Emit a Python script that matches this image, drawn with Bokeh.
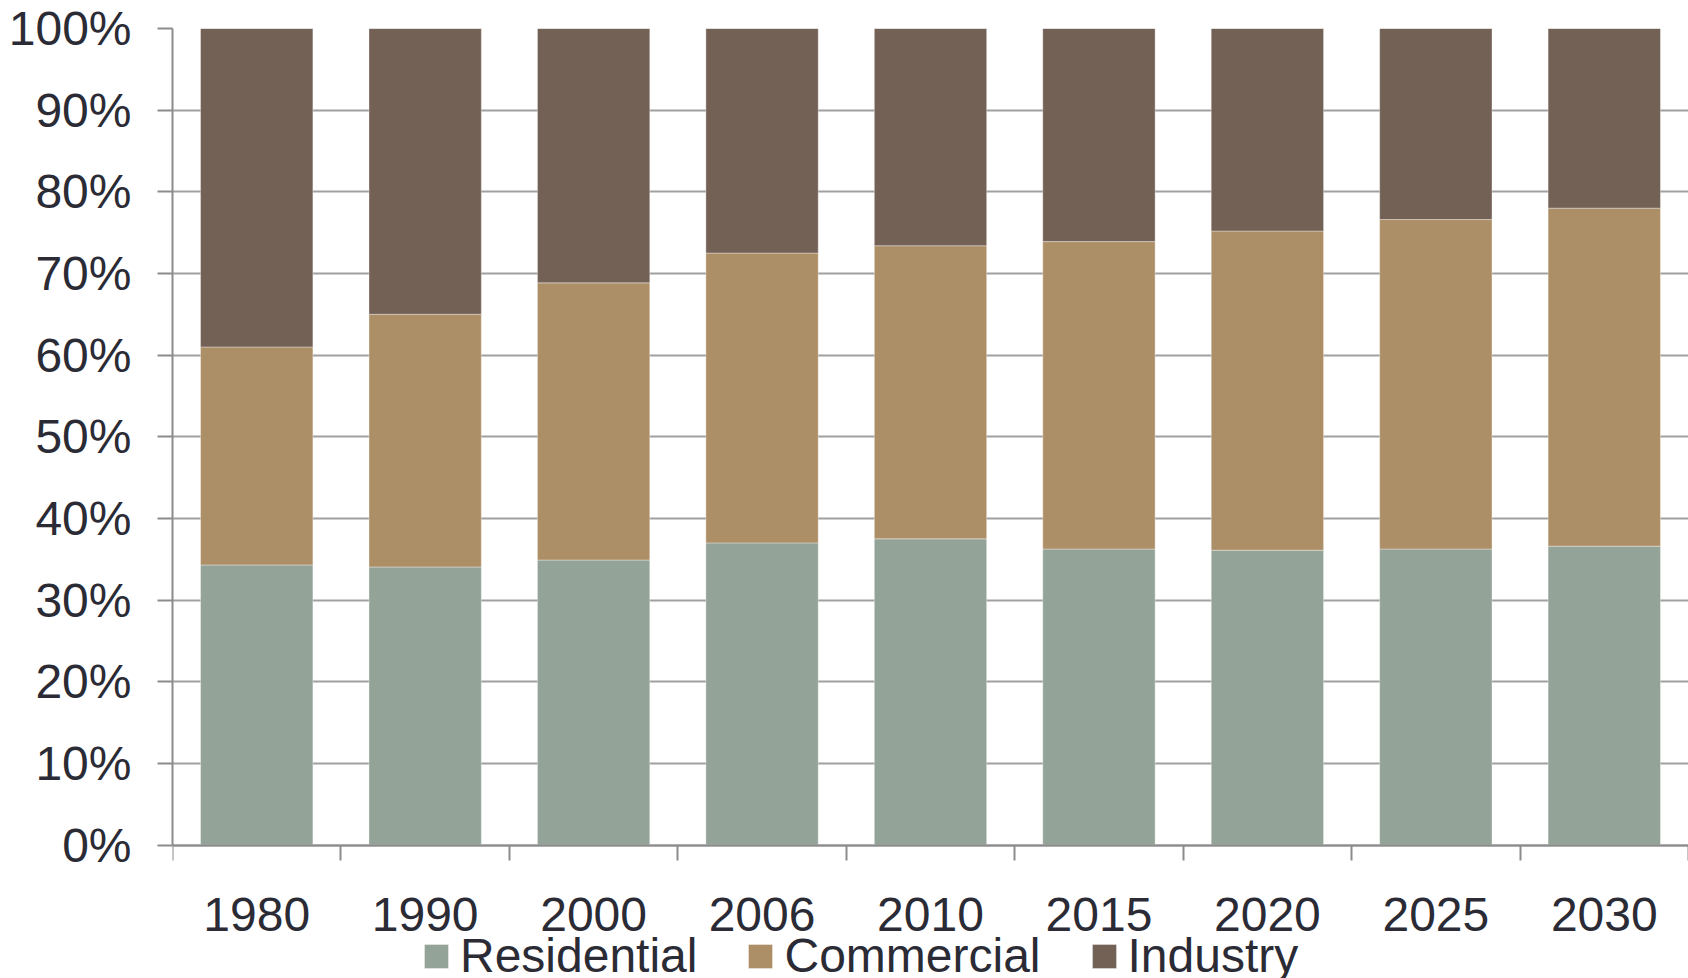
from bokeh.plotting import figure
from bokeh.models import (ColumnDataSource, FixedTicker, PrintfTickFormatter,
                          Legend, LegendItem, Range1d, LinearAxis)
from bokeh.embed import file_html
from bokeh.resources import INLINE

# Share of electricity use by sector, percent of total
years = ["1980", "1990", "2000", "2006", "2010", "2015", "2020", "2025", "2030"]
residential = [34.3, 34.05, 34.9, 37.0, 37.5, 36.25, 36.1, 36.25, 36.6]
commercial = [26.7, 30.95, 33.95, 35.5, 35.9, 37.65, 39.1, 40.35, 41.4]
industry = [39.0, 35.0, 31.15, 27.5, 26.6, 26.1, 24.8, 23.4, 22.0]

sectors = ["Residential", "Commercial", "Industry"]
colors = ["#93a398", "#ad8f67", "#736156"]
y_ticks = list(range(0, 101, 10))

positions = list(range(1, len(years) + 1))
source = ColumnDataSource(dict(x=positions, Residential=residential,
                               Commercial=commercial, Industry=industry))

FONT = "Liberation Sans"
FONT_SIZE = "48px"
TEXT = "#2b2b36"
AXIS = "#8c8c8c"

# The plot frame runs down to the bottom edge so the legend below the
# year labels is drawn inside it; the category axis sits at y = 0.
p = figure(width=1688, height=978,
           x_range=Range1d(0.5, len(years) + 0.5), y_range=Range1d(-16.35, 100),
           x_axis_location=None,
           output_backend="svg", toolbar_location=None,
           min_border_left=172, min_border_right=0,
           min_border_top=28, min_border_bottom=0)
p.outline_line_color = None
p.background_fill_color = "white"
p.border_fill_color = "white"

bars = p.vbar_stack(sectors, x="x", width=0.667, source=source, color=colors,
                    line_color="white", line_alpha=0.35, line_width=1)

# x axis: year labels centred, tick marks between categories
xax = LinearAxis(fixed_location=0)
xax.ticker = FixedTicker(ticks=positions,
                         minor_ticks=[i + 0.5 for i in range(len(years) + 1)])
xax.major_label_overrides = {pos: yr for pos, yr in zip(positions, years)}
xax.major_tick_out = 0
xax.major_tick_in = 0
xax.minor_tick_out = 15
xax.minor_tick_in = 0
xax.minor_tick_line_color = AXIS
xax.minor_tick_line_width = 2
xax.axis_line_color = AXIS
xax.axis_line_width = 2
xax.major_label_standoff = 38
xax.major_label_text_font = FONT
xax.major_label_text_font_size = FONT_SIZE
xax.major_label_text_color = TEXT
p.add_layout(xax, "below")

yax = p.yaxis[0]
yax.bounds = (0, 100)
yax.ticker = FixedTicker(ticks=y_ticks)
yax.formatter = PrintfTickFormatter(format="%d%%")
yax.major_tick_out = 15
yax.major_tick_in = 0
yax.minor_tick_line_color = None
yax.major_tick_line_color = AXIS
yax.major_tick_line_width = 2
yax.axis_line_color = AXIS
yax.axis_line_width = 2
yax.major_label_standoff = 26
yax.major_label_text_font = FONT
yax.major_label_text_font_size = FONT_SIZE
yax.major_label_text_color = TEXT

p.xgrid.grid_line_color = None
p.ygrid.ticker = FixedTicker(ticks=y_ticks)
p.ygrid.grid_line_color = "#a0a0a0"
p.ygrid.grid_line_width = 2

legend = Legend(items=[LegendItem(label=s, renderers=[r]) for s, r in zip(sectors, bars)],
                orientation="horizontal", location=(249, -5),
                glyph_width=30, glyph_height=30, label_standoff=9, spacing=48,
                padding=0, margin=0, border_line_color=None,
                background_fill_alpha=0,
                label_text_font=FONT, label_text_font_size=FONT_SIZE,
                label_text_color=TEXT)
p.add_layout(legend)

open("out.html", "w").write(file_html(p, INLINE))
